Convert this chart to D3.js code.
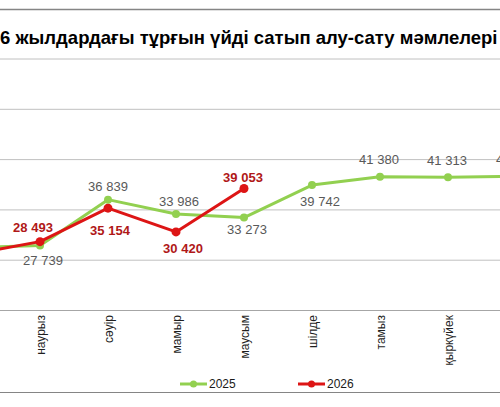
<!DOCTYPE html>
<html>
<head>
<meta charset="utf-8">
<script src="https://cdn.jsdelivr.net/npm/d3@7"></script>
<style>
body{margin:0;background:#fff;}
svg{display:block;font-family:"Liberation Sans",Arial,sans-serif;}
.t_title{font-size:18.5px;font-weight:bold;fill:#000;}
.t_month{font-size:12px;fill:#1f1f1f;}
.t_v25{font-size:13px;fill:#595959;}
.t_v26{font-size:13px;font-weight:bold;fill:#b01818;}
.t_leg{font-size:12px;fill:#1a1a1a;}
.grid line{stroke:#c0c0c0;}
.grid path{display:none;}
</style>
</head>
<body>
<svg width="500" height="407"></svg>
<script>

/* ----------------------------------------------------------
data
---------------------------------------------------------- */

var months = ["ақпан","наурыз","сәуір","мамыр","маусым","шілде","тамыз","қыркүйек","қазан"];
var vals2025 = [27300, 27739, 36839, 33986, 33273, 39742, 41380, 41313, 41450];
var vals2026 = [26000, 28493, 35154, 30420, 39053];
var yTicks = [15000, 25000, 35000, 45000, 55000, 65000];
var seriesNames = ["2025","2026"];

// label nudges (dx, dy) like the manual placement in the original
var nudge2025 = [[0,15],[3,15],[0,-13],[3,-13],[3,12],[8,16],[-1,-17],[-1,-17],[0,-17]];
var nudge2026 = [[0,-14],[-7,-14],[2,22],[7,17],[-1,-11]];

var colGreen = "#92d050";
var colRed = "#dd1515";

/* ----------------------------------------------------------
setting
---------------------------------------------------------- */

var W = 500, H = 407;
var svg = d3.select("svg");
svg.append("rect").attr("width",W).attr("height",H).attr("fill","#fff");

// the view is a crop of the wider chart: ақпан and қазан sit past the edges
var x = d3.scalePoint().domain(months).range([-28, 516]);
var y = d3.scaleLinear().domain([15000, 65000]).range([309.5, 58]);
var inView = function(m){ return x(m) > 0 && x(m) < W; };

//frame + title
svg.append("line").attr("x1",0).attr("x2",W).attr("y1",9.5).attr("y2",9.5)
	.attr("stroke","#858585").attr("stroke-width",1.5);
svg.append("line").attr("x1",0).attr("x2",W).attr("y1",392.5).attr("y2",392.5)
	.attr("stroke","#858585");
svg.append("text").attr("x",0).attr("y",44).attr("class","t_title")
	.text("6 жылдардағы тұрғын үйді сатып алу-сату мәмлелері");

//grid
var yAxis = d3.axisLeft(y).tickValues(yTicks.slice(1)).tickSize(-W).tickFormat("");
svg.append("g").attr("class","grid").attr("transform","translate(0,0.5)").call(yAxis)
	.selectAll("line").attr("x1",0).attr("x2",W);

svg.append("line").attr("x1",0).attr("x2",W)
	.attr("y1",Math.round(y(yTicks[0]))+0.5).attr("y2",Math.round(y(yTicks[0]))+0.5)
	.attr("stroke","#a6a6a6");

//month labels
svg.selectAll(".t_month").data(months.filter(inView)).enter().append("text")
	.attr("class","t_month")
	.attr("transform",function(d){ return "translate(" + (x(d)+1) + ",315) rotate(-90)"; })
	.attr("dy","0.35em")
	.style("text-anchor","end")
	.text(function(d){ return d; });

/* ----------------------------------------------------------
lines
---------------------------------------------------------- */

var fmt = function(v){ return d3.format(",")(v).replace(",", " "); };

function drawSeries(vals, color, width, r, cls, nudge){
	var line = d3.line()
		.x(function(d,i){ return x(months[i]); })
		.y(function(d){ return y(d); });
	svg.append("path").attr("d", line(vals))
		.attr("fill","none").attr("stroke",color).attr("stroke-width",width)
		.attr("stroke-linejoin","round");
	svg.append("g").selectAll("circle").data(vals).enter().append("circle")
		.attr("cx",function(d,i){ return x(months[i]); })
		.attr("cy",function(d){ return y(d); })
		.attr("r",r).attr("fill",color);
	// only labels whose point is not left of the view (the reference shows a sliver of the last one)
	var lab = vals.map(function(d,i){ return {v:d, i:i}; })
		.filter(function(d){ return x(months[d.i]) > 0; });
	svg.append("g").selectAll("text").data(lab).enter().append("text")
		.attr("class",cls)
		.attr("x",function(d){ return x(months[d.i]) + nudge[d.i][0]; })
		.attr("y",function(d){ return y(d.v) + nudge[d.i][1]; })
		.attr("dy","0.35em")
		.style("text-anchor","middle")
		.text(function(d){ return fmt(d.v); });
}

drawSeries(vals2025, colGreen, 3, 4, "t_v25", nudge2025);
drawSeries(vals2026, colRed, 3, 4.5, "t_v26", nudge2026);

/* ----------------------------------------------------------
legend
---------------------------------------------------------- */

var legColors = [colGreen, colRed];
var gLegend = svg.append("g").attr("transform","translate(180,384)");
var legs = gLegend.selectAll(".legends").data(seriesNames).enter().append("g")
	.attr("class","legends")
	.attr("transform",function(d,i){ return "translate(" + (i*118) + ",0)"; });
legs.append("line").attr("x1",0).attr("x2",27).attr("y1",0).attr("y2",0)
	.attr("stroke",function(d,i){ return legColors[i]; }).attr("stroke-width",3);
legs.append("circle").attr("cx",13.5).attr("cy",0).attr("r",3.5)
	.attr("fill",function(d,i){ return legColors[i]; });
legs.append("text").attr("class","t_leg").attr("x",29).attr("y",0).attr("dy","0.35em")
	.text(function(d){ return d; });

</script>
</body>
</html>
